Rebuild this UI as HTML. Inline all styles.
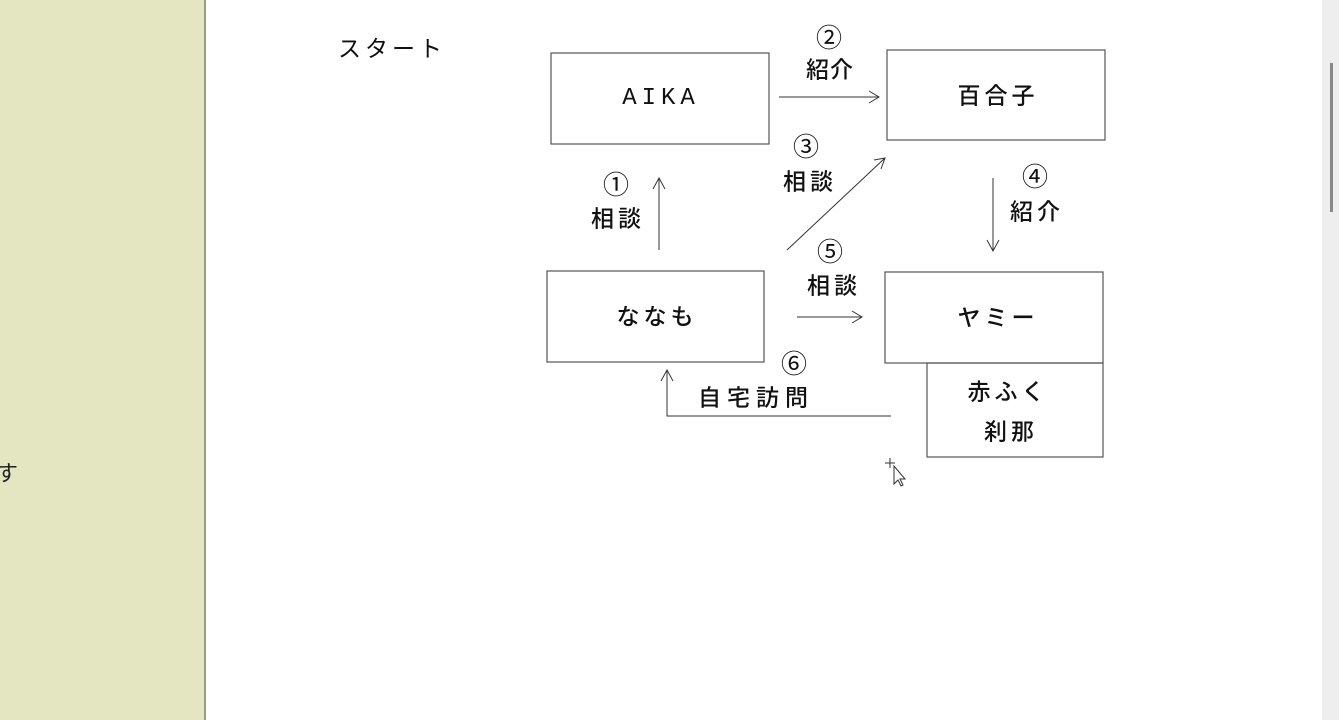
<!DOCTYPE html>
<html><head><meta charset="utf-8"><style>
body{margin:0;width:1339px;height:720px;overflow:hidden;background:#fff;position:relative;font-family:"Liberation Sans","Noto Sans CJK JP",sans-serif;}
.side{position:absolute;left:0;top:0;width:204px;height:720px;background:#e4e6c2;border-right:2px solid #9a9a80;}
.sb{position:absolute;left:1322px;top:0;width:17px;height:720px;background:#eeeeee;}
.th{position:absolute;left:1330px;top:63px;width:3px;height:149px;background:#888;}
.t{position:absolute;color:#111;font-size:23px;white-space:nowrap;transform:translate(-50%,-50%);letter-spacing:4px;line-height:1;font-weight:500;}
.c{font-size:26px;letter-spacing:0;font-weight:400;}
</style></head><body>
<div class="side"></div>
<div style="position:absolute;left:-4px;top:456px;font-size:22px;color:#222">す</div>
<div class="sb"></div><div class="th"></div>
<svg width="1339" height="720" style="position:absolute;left:0;top:0">
<g fill="none" stroke="#555" stroke-width="1.2">
<rect x="551" y="53" width="218" height="91"/>
<rect x="887" y="50" width="218" height="90"/>
<rect x="547" y="271" width="217" height="91"/>
<rect x="885" y="272" width="218" height="91"/>
<rect x="927" y="363" width="176" height="94"/>
</g>
<g fill="none" stroke="#333" stroke-width="1">
<path d="M779 97H879M869 91L879 97L869 103"/>
<path d="M659 250V178M653 189L659 178L665 189"/>
<path d="M787 250L885 158M874 160L885 158L881 169"/>
<path d="M993 178V251M987 240L993 251L999 240"/>
<path d="M797 317H862M852 311L862 317L852 323"/>
<path d="M891 416H667V370M661 381L667 370L673 381"/>
</g>
<path d="M890 458v10M885 463h10" stroke="#333"/>
<path d="M894 466l0 18 4-4 3 6 2-1-3-6 5 0z" fill="#fff" stroke="#333"/>
</svg>
<div class="t" style="left:392px;top:49px;font-weight:400">スタート</div>
<div class="t" style="left:661px;top:99px;font-family:'Liberation Mono',monospace;letter-spacing:5px;font-size:24px">AIKA</div>
<div class="t" style="left:998px;top:96px">百合子</div>
<div class="t" style="left:657px;top:317px">ななも</div>
<div class="t" style="left:998px;top:318px">ヤミー</div>
<div class="t" style="left:1008px;top:392px">赤ふく</div>
<div class="t" style="left:1011px;top:432px">刹那</div>
<div class="t c" style="left:829px;top:38px">②</div>
<div class="t" style="left:830px;top:70px;letter-spacing:1px">紹介</div>
<div class="t c" style="left:806px;top:147px">③</div>
<div class="t" style="left:810px;top:182px">相談</div>
<div class="t c" style="left:616px;top:185px">①</div>
<div class="t" style="left:618px;top:219px">相談</div>
<div class="t c" style="left:1035px;top:177px">④</div>
<div class="t" style="left:1037px;top:212px">紹介</div>
<div class="t c" style="left:830px;top:252px">⑤</div>
<div class="t" style="left:834px;top:286px">相談</div>
<div class="t c" style="left:794px;top:364px">⑥</div>
<div class="t" style="left:756px;top:398px;letter-spacing:6px">自宅訪問</div>
</body></html>
